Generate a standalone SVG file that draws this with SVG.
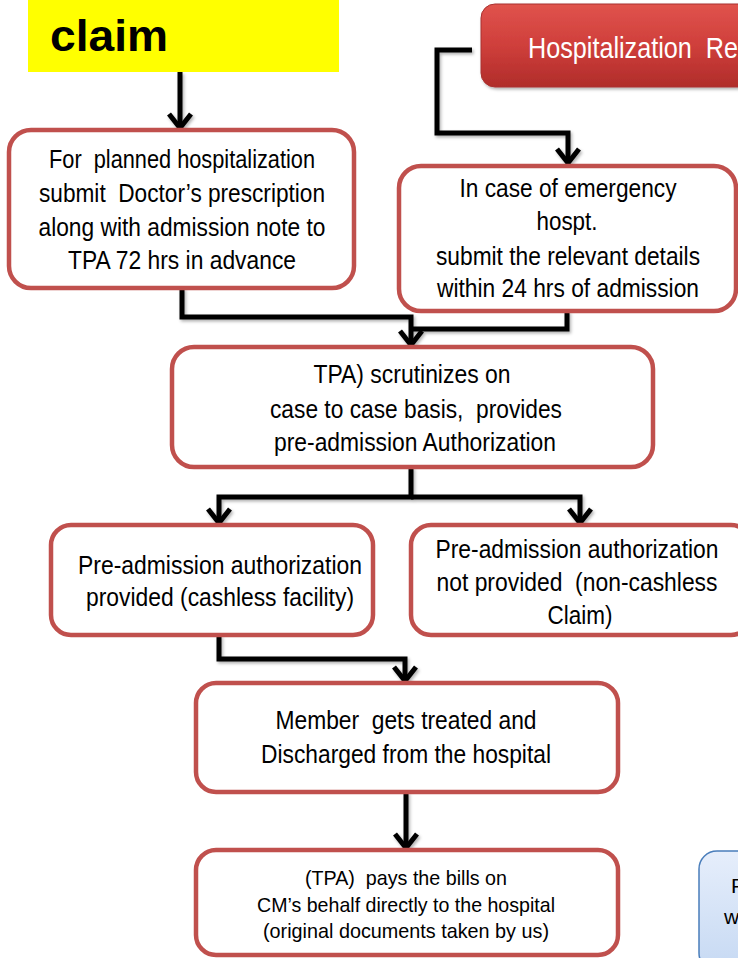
<svg xmlns="http://www.w3.org/2000/svg" width="738" height="958" viewBox="0 0 738 958">
<style>
.box{fill:#fff;stroke:#c0504d;stroke-width:4.5}
.t{font-family:"Liberation Sans",Arial,sans-serif;font-size:26px;fill:#000;text-anchor:middle}
.ts{font-family:"Liberation Sans",Arial,sans-serif;font-size:21px;fill:#000;text-anchor:middle}
.c{fill:none;stroke:#000;stroke-width:5}
</style>
<defs>
<marker id="arr" viewBox="-20 -14 26 28" refX="-3" refY="0" markerWidth="26" markerHeight="28" markerUnits="userSpaceOnUse" orient="auto">
<path d="M-14,-11 L0,0 L-14,11" fill="none" stroke="#000" stroke-width="5"/>
</marker>
<linearGradient id="rg" x1="0" y1="0" x2="0" y2="1">
<stop offset="0" stop-color="#e0534d"/>
<stop offset="0.5" stop-color="#cf3f3b"/>
<stop offset="1" stop-color="#b02c2a"/>
</linearGradient>
<linearGradient id="bg" x1="0" y1="0" x2="0" y2="1">
<stop offset="0" stop-color="#e6eefb"/>
<stop offset="1" stop-color="#c6d9f3"/>
</linearGradient>
<filter id="sh" filterUnits="userSpaceOnUse" x="0" y="0" width="738" height="958">
<feDropShadow dx="1.5" dy="2" stdDeviation="1.5" flood-color="#000" flood-opacity="0.3"/>
</filter>
</defs>
<rect width="738" height="958" fill="#fff"/>

<g id="claim">
<rect x="28" y="0" width="311" height="72" fill="#ffff00"/>
<text x="50" y="51" font-family="Liberation Sans,Arial,sans-serif" font-weight="bold" font-size="45" textLength="118" lengthAdjust="spacingAndGlyphs">claim</text>
</g>

<g id="hosp-req">
<rect x="481" y="4" width="300" height="83" rx="14" fill="url(#rg)" stroke="#a83230" stroke-width="1" filter="url(#sh)"/>
<text x="528" y="58" font-family="Liberation Sans,Arial,sans-serif" font-size="30" fill="#fff" textLength="210" lengthAdjust="spacingAndGlyphs" xml:space="preserve">Hospitalization  Re</text>
</g>

<g id="connectors" filter="url(#sh)">
<path class="c" d="M180,72 L180,125" marker-end="url(#arr)"/>
<path class="c" d="M472,50 L437,50 L437,133 L568,133 L568,160" marker-end="url(#arr)"/>
<path class="c" d="M182,288 L182,317 L411,317 L411,342" marker-end="url(#arr)"/>
<path class="c" d="M567,311 L567,329 L411,329"/>
<path class="c" d="M411,467 L411,497 L219,497 L219,520" marker-end="url(#arr)"/>
<path class="c" d="M411,497 L580,497 L580,520" marker-end="url(#arr)"/>
<path class="c" d="M219,635 L219,659 L405,659 L405,678" marker-end="url(#arr)"/>
<path class="c" d="M406,792 L406,845" marker-end="url(#arr)"/>
</g>

<g id="planned">
<rect class="box" x="9" y="130" width="345" height="158" rx="22"/>
<text class="t" x="182" y="168" textLength="266" lengthAdjust="spacingAndGlyphs" xml:space="preserve">For  planned hospitalization</text>
<text class="t" x="182" y="202" textLength="286" lengthAdjust="spacingAndGlyphs" xml:space="preserve">submit  Doctor’s prescription</text>
<text class="t" x="182" y="236" textLength="287" lengthAdjust="spacingAndGlyphs">along with admission note to</text>
<text class="t" x="182" y="269" textLength="228" lengthAdjust="spacingAndGlyphs">TPA 72 hrs in advance</text>
</g>

<g id="emergency">
<rect class="box" x="399" y="166" width="337" height="145" rx="22"/>
<text class="t" x="568" y="197" textLength="217" lengthAdjust="spacingAndGlyphs">In case of emergency</text>
<text class="t" x="567" y="230" textLength="61" lengthAdjust="spacingAndGlyphs">hospt.</text>
<text class="t" x="568" y="265" textLength="264" lengthAdjust="spacingAndGlyphs">submit the relevant details</text>
<text class="t" x="568" y="297" textLength="262" lengthAdjust="spacingAndGlyphs">within 24 hrs of admission</text>
</g>

<g id="tpa">
<rect class="box" x="172" y="347" width="481" height="120" rx="22"/>
<text class="t" x="412" y="383" textLength="197" lengthAdjust="spacingAndGlyphs">TPA) scrutinizes on</text>
<text class="t" x="416" y="418" textLength="292" lengthAdjust="spacingAndGlyphs" xml:space="preserve">case to case basis,  provides</text>
<text class="t" x="415" y="451" textLength="282" lengthAdjust="spacingAndGlyphs">pre-admission Authorization</text>
</g>

<g id="cashless">
<rect class="box" x="51" y="525" width="322" height="110" rx="20"/>
<text class="t" x="220" y="574" textLength="284" lengthAdjust="spacingAndGlyphs">Pre-admission authorization</text>
<text class="t" x="220" y="606" textLength="268" lengthAdjust="spacingAndGlyphs">provided (cashless facility)</text>
</g>

<g id="non-cashless">
<rect class="box" x="411" y="525" width="340" height="110" rx="20"/>
<text class="t" x="577" y="558" textLength="283" lengthAdjust="spacingAndGlyphs">Pre-admission authorization</text>
<text class="t" x="577" y="591" textLength="281" lengthAdjust="spacingAndGlyphs" xml:space="preserve">not provided  (non-cashless</text>
<text class="t" x="580" y="624" textLength="65" lengthAdjust="spacingAndGlyphs">Claim)</text>
</g>

<g id="member">
<rect class="box" x="196" y="683" width="422" height="109" rx="20"/>
<text class="t" x="406" y="729" textLength="261" lengthAdjust="spacingAndGlyphs" xml:space="preserve">Member  gets treated and</text>
<text class="t" x="406" y="763" textLength="290" lengthAdjust="spacingAndGlyphs">Discharged from the hospital</text>
</g>

<g id="pays">
<rect class="box" x="196" y="850" width="422" height="105" rx="20"/>
<text class="ts" x="406" y="885" textLength="202" lengthAdjust="spacingAndGlyphs" xml:space="preserve">(TPA)  pays the bills on</text>
<text class="ts" x="406" y="912" textLength="298" lengthAdjust="spacingAndGlyphs">CM’s behalf directly to the hospital</text>
<text class="ts" x="406" y="938" textLength="286" lengthAdjust="spacingAndGlyphs">(original documents taken by us)</text>
</g>

<g id="blue-note">
<rect x="699" y="851" width="80" height="120" rx="18" fill="url(#bg)" stroke="#4a7ebb" stroke-width="1.5"/>
<text x="731" y="893" font-family="Liberation Sans,Arial,sans-serif" font-size="21" fill="#000">F</text>
<text x="724" y="924" font-family="Liberation Sans,Arial,sans-serif" font-size="21" fill="#000">w</text>
</g>
</svg>
